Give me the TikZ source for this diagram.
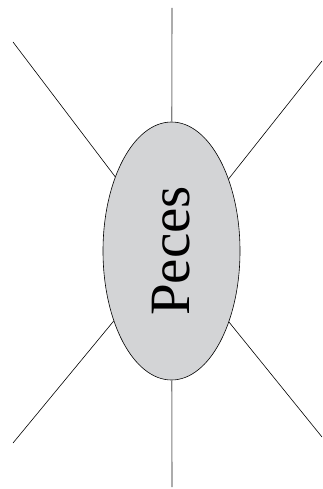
\documentclass[tikz,border=0pt]{standalone}
\usepackage{fontspec}
\setmainfont{Liberation Serif}
\usepackage{tikz}
\usetikzlibrary{shapes.geometric}
\definecolor{FishGray}{RGB}{211,212,214}
\definecolor{StemGray}{RGB}{128,128,128}
\tikzset{
	topic/.style={ellipse,draw=black,fill=FishGray,line width=0.6pt,inner sep=0pt,
		minimum width=258pt,minimum height=137pt,font=\fontsize{57}{60}\selectfont},
	spoke/.style={draw=black,line width=0.6pt},
	stem/.style={draw=StemGray,line width=1.1pt},
}

\begin{document}
\begin{tikzpicture}[x=1pt,y=-1pt]
	\useasboundingbox (0,0) rectangle (322,489);
	\node[topic,rotate=90] (fish) at (171.5,251) {Peces};
	\coordinate (n) at (172,8);
	\coordinate (s) at (172,487);
	\coordinate (nw) at (13,42);
	\coordinate (ne) at (322,61);
	\coordinate (sw) at (13,443);
	\coordinate (se) at (322,437);
	\draw[stem] (n) -- (fish);
	\draw[stem] (s) -- (fish);
	\foreach \p in {nw,ne,sw,se} \draw[spoke] (\p) -- (fish);
\end{tikzpicture}
\end{document}
